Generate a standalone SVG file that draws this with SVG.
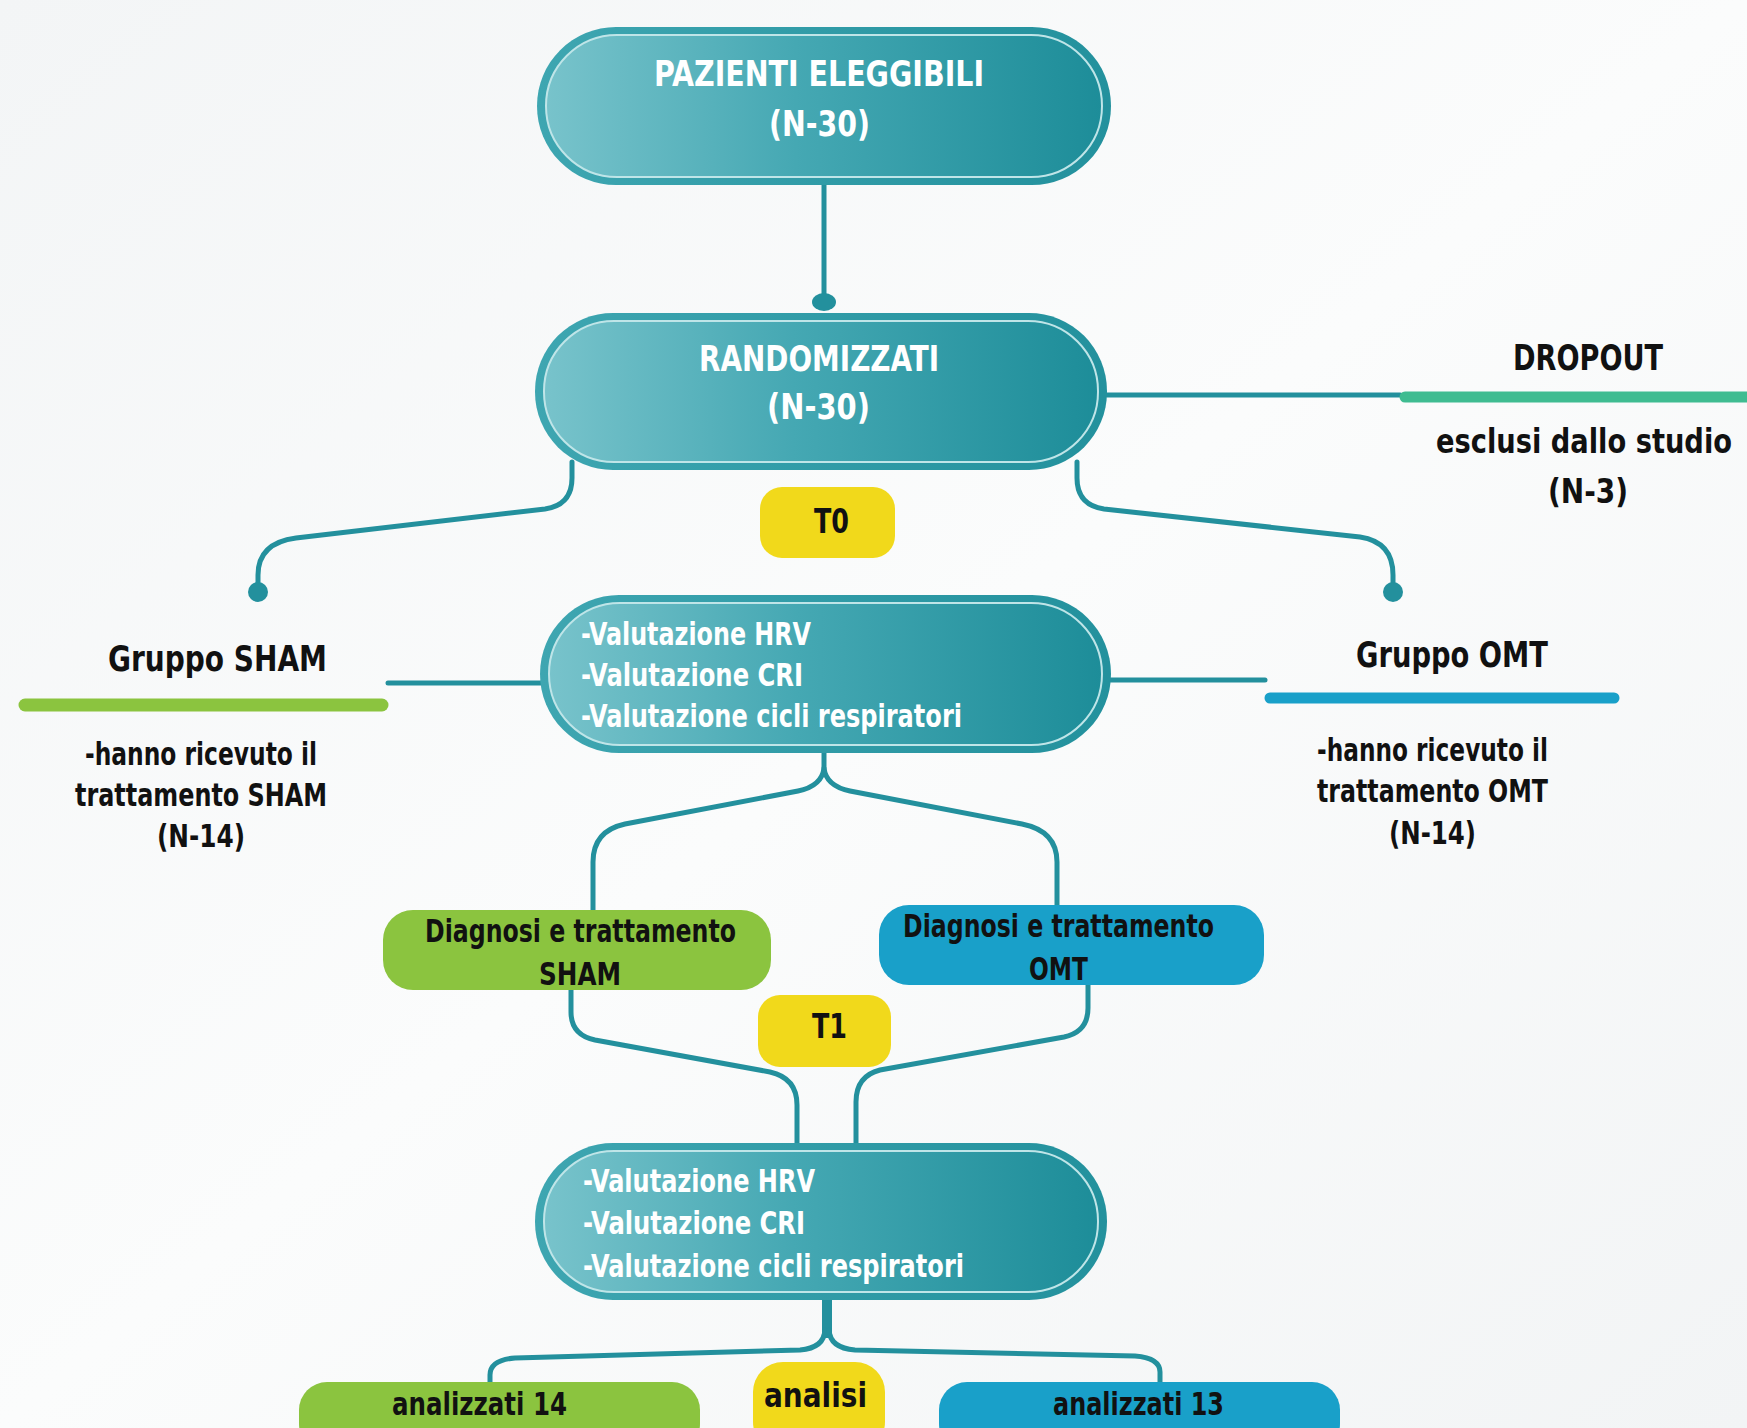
<svg xmlns="http://www.w3.org/2000/svg" width="1747" height="1428" viewBox="0 0 1747 1428">
<defs>
<linearGradient id="bg" x1="0" y1="0" x2="1" y2="1">
<stop offset="0" stop-color="#f3f5f6"/><stop offset="0.5" stop-color="#fbfcfc"/><stop offset="1" stop-color="#f2f4f5"/>
</linearGradient>
<linearGradient id="ring" x1="0" y1="0" x2="1" y2="0">
<stop offset="0" stop-color="#3ea6b1"/><stop offset="1" stop-color="#23919d"/>
</linearGradient>
<linearGradient id="fill" x1="0" y1="0" x2="1" y2="0">
<stop offset="0" stop-color="#78c3cb"/><stop offset="0.45" stop-color="#45a8b3"/><stop offset="1" stop-color="#1d8d99"/>
</linearGradient>
<style>
.ring{fill:url(#ring)}
.inner{fill:url(#fill);stroke:#bfe5e8;stroke-width:2}
.conn{fill:none;stroke:#23909d;stroke-width:5;stroke-linecap:round;stroke-linejoin:round}
.dot{fill:#23909d}
.t{font-family:"Liberation Sans Narrow","DejaVu Sans Condensed","Liberation Sans",Arial,sans-serif;font-weight:bold}
.w{fill:#ffffff}
.k{fill:#111111}
.yel{fill:#f1d91b}
.grn{fill:#8bc43f}
.blu{fill:#19a0c9}
</style>
</defs>
<rect x="0" y="0" width="1747" height="1428" fill="url(#bg)"/>

<g id="connectors">
<line class="conn" x1="824" y1="185" x2="824" y2="300"/>
<ellipse class="dot" cx="824" cy="302" rx="12" ry="9"/>
<path class="conn" d="M 572 462 L 572 478 Q 572 505 545 509 L 296 538 Q 258 543 258 575 L 258 590"/>
<circle class="dot" cx="258" cy="592" r="10"/>
<path class="conn" d="M 1077 462 L 1077 478 Q 1077 505 1104 509 L 1360 537 Q 1393 542 1393 575 L 1393 590"/>
<circle class="dot" cx="1393" cy="592" r="10"/>
<line class="conn" x1="1107" y1="395" x2="1400" y2="395"/>
<line x1="1405" y1="397" x2="1760" y2="397" stroke="#3fbc91" stroke-width="11" stroke-linecap="round"/>
<line class="conn" x1="388" y1="683" x2="541" y2="683"/>
<line x1="25" y1="705" x2="382" y2="705" stroke="#8bc43f" stroke-width="13" stroke-linecap="round"/>
<line class="conn" x1="1111" y1="680" x2="1265" y2="680"/>
<line x1="1270" y1="698" x2="1614" y2="698" stroke="#19a0c9" stroke-width="11" stroke-linecap="round"/>
<path class="conn" d="M 824 753 L 824 768 Q 822 786 798 791 L 625 824 Q 593 831 593 862 L 593 910"/>
<path class="conn" d="M 824 768 Q 826 786 850 791 L 1022 824 Q 1057 831 1057 862 L 1057 905"/>
<path class="conn" d="M 571 990 L 571 1012 Q 571 1035 595 1040 L 770 1072 Q 797 1078 797 1105 L 797 1143"/>
<path class="conn" d="M 1088 985 L 1088 1008 Q 1088 1032 1064 1037 L 880 1070 Q 856 1076 856 1102 L 856 1143"/>
<line x1="827" y1="1300" x2="827" y2="1338" stroke="#23909d" stroke-width="10"/>
<path class="conn" d="M 825 1330 Q 824 1348 800 1350 L 515 1358 Q 490 1360 490 1375 L 490 1384"/>
<path class="conn" d="M 829 1330 Q 830 1348 855 1350 L 1135 1356 Q 1160 1358 1160 1372 L 1160 1384"/>
</g>

<g id="n-pazienti">
<rect class="ring" x="537" y="27" width="574" height="158" rx="79"/>
<rect class="inner" x="546" y="35" width="556" height="142" rx="71"/>
<text class="t w" x="654" y="86" font-size="35" textLength="330" lengthAdjust="spacingAndGlyphs">PAZIENTI ELEGGIBILI</text>
<text class="t w" x="769" y="136" font-size="35" textLength="101" lengthAdjust="spacingAndGlyphs">(N-30)</text>
</g>

<g id="n-randomizzati">
<rect class="ring" x="535" y="313" width="572" height="157" rx="78"/>
<rect class="inner" x="544" y="321" width="554" height="141" rx="70"/>
<text class="t w" x="699" y="371" font-size="35" textLength="240" lengthAdjust="spacingAndGlyphs">RANDOMIZZATI</text>
<text class="t w" x="767" y="419" font-size="35" textLength="103" lengthAdjust="spacingAndGlyphs">(N-30)</text>
</g>

<g id="n-t0">
<rect class="yel" x="760" y="487" width="135" height="71" rx="22"/>
<text class="t k" x="814" y="533" font-size="34" textLength="35" lengthAdjust="spacingAndGlyphs">T0</text>
</g>

<g id="n-dropout">
<text class="t k" x="1513" y="370" font-size="35" textLength="150" lengthAdjust="spacingAndGlyphs">DROPOUT</text>
<text class="t k" transform="translate(1436,453) scale(0.8,1)" x="0" y="0" font-size="34" textLength="370" lengthAdjust="spacingAndGlyphs">esclusi dallo studio</text>
<text class="t k" x="1548" y="503" font-size="34" textLength="80" lengthAdjust="spacingAndGlyphs">(N-3)</text>
</g>

<g id="n-sham">
<text class="t k" x="108" y="671" font-size="35" textLength="219" lengthAdjust="spacingAndGlyphs">Gruppo SHAM</text>
<text class="t k" x="85" y="765" font-size="32" textLength="232" lengthAdjust="spacingAndGlyphs">-hanno ricevuto il</text>
<text class="t k" x="75" y="806" font-size="32" textLength="252" lengthAdjust="spacingAndGlyphs">trattamento SHAM</text>
<text class="t k" x="157" y="847" font-size="32" textLength="88" lengthAdjust="spacingAndGlyphs">(N-14)</text>
</g>

<g id="n-omt">
<text class="t k" x="1356" y="667" font-size="35" textLength="192" lengthAdjust="spacingAndGlyphs">Gruppo OMT</text>
<text class="t k" x="1317" y="761" font-size="32" textLength="231" lengthAdjust="spacingAndGlyphs">-hanno ricevuto il</text>
<text class="t k" x="1317" y="802" font-size="32" textLength="231" lengthAdjust="spacingAndGlyphs">trattamento OMT</text>
<text class="t k" x="1389" y="844" font-size="32" textLength="87" lengthAdjust="spacingAndGlyphs">(N-14)</text>
</g>

<g id="n-valutazione-t0">
<rect class="ring" x="540" y="595" width="571" height="158" rx="79"/>
<rect class="inner" x="549" y="603" width="553" height="142" rx="71"/>
<text class="t w" x="581" y="645" font-size="32" textLength="230" lengthAdjust="spacingAndGlyphs">-Valutazione HRV</text>
<text class="t w" x="581" y="686" font-size="32" textLength="222" lengthAdjust="spacingAndGlyphs">-Valutazione CRI</text>
<text class="t w" x="581" y="727" font-size="32" textLength="381" lengthAdjust="spacingAndGlyphs">-Valutazione cicli respiratori</text>
</g>

<g id="n-diag-sham">
<rect class="grn" x="383" y="910" width="388" height="80" rx="30"/>
<text class="t k" x="425" y="942" font-size="32" textLength="311" lengthAdjust="spacingAndGlyphs">Diagnosi e trattamento</text>
<text class="t k" x="539" y="985" font-size="32" textLength="82" lengthAdjust="spacingAndGlyphs">SHAM</text>
</g>

<g id="n-diag-omt">
<rect class="blu" x="879" y="905" width="385" height="80" rx="30"/>
<text class="t k" x="903" y="937" font-size="32" textLength="311" lengthAdjust="spacingAndGlyphs">Diagnosi e trattamento</text>
<text class="t k" x="1029" y="980" font-size="32" textLength="59" lengthAdjust="spacingAndGlyphs">OMT</text>
</g>

<g id="n-t1">
<rect class="yel" x="758" y="995" width="133" height="72" rx="22"/>
<text class="t k" x="812" y="1038" font-size="34" textLength="35" lengthAdjust="spacingAndGlyphs">T1</text>
</g>

<g id="n-valutazione-t1">
<rect class="ring" x="535" y="1143" width="572" height="157" rx="78"/>
<rect class="inner" x="544" y="1151" width="554" height="141" rx="70"/>
<text class="t w" x="583" y="1192" font-size="32" textLength="232" lengthAdjust="spacingAndGlyphs">-Valutazione HRV</text>
<text class="t w" x="583" y="1234" font-size="32" textLength="222" lengthAdjust="spacingAndGlyphs">-Valutazione CRI</text>
<text class="t w" x="583" y="1277" font-size="32" textLength="381" lengthAdjust="spacingAndGlyphs">-Valutazione cicli respiratori</text>
</g>

<g id="n-analizzati-14">
<rect class="grn" x="299" y="1382" width="401" height="70" rx="28"/>
<text class="t k" x="392" y="1415" font-size="32" textLength="175" lengthAdjust="spacingAndGlyphs">analizzati 14</text>
</g>

<g id="n-analisi">
<rect class="yel" x="753" y="1362" width="132" height="90" rx="30"/>
<text class="t k" x="764" y="1407" font-size="34" textLength="103" lengthAdjust="spacingAndGlyphs">analisi</text>
</g>

<g id="n-analizzati-13">
<rect class="blu" x="939" y="1382" width="401" height="70" rx="28"/>
<text class="t k" x="1053" y="1415" font-size="32" textLength="171" lengthAdjust="spacingAndGlyphs">analizzati 13</text>
</g>
</svg>
